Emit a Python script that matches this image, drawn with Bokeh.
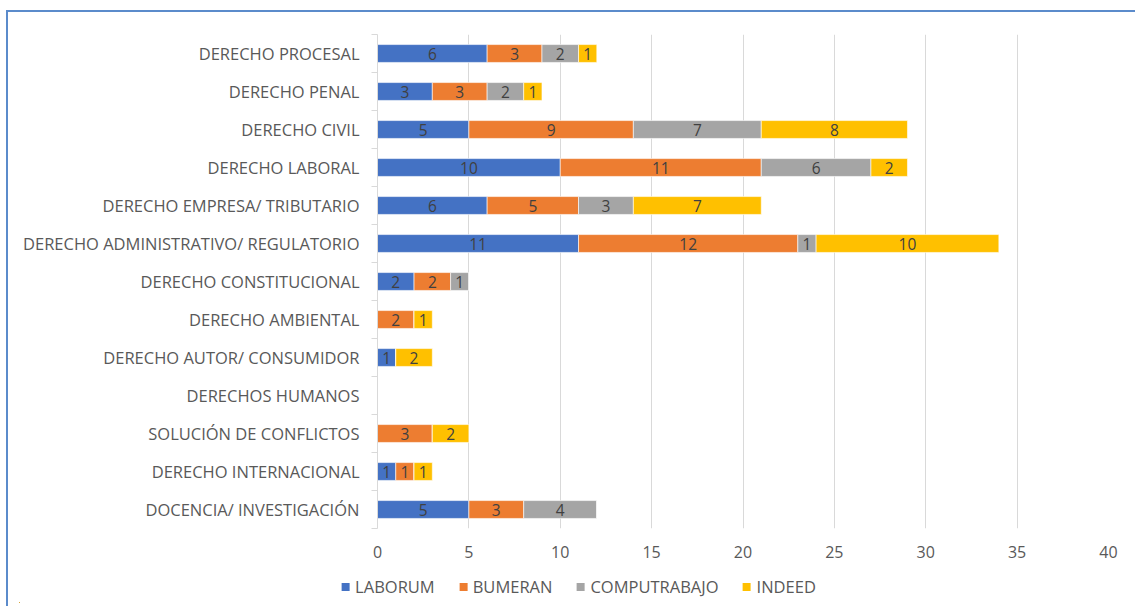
from bokeh.plotting import figure
from bokeh.models import ColumnDataSource, FixedTicker, Range1d, Legend, LegendItem
from bokeh.embed import file_html
from bokeh.resources import INLINE
from bokeh.core.properties import value

categories = [
    "DERECHO PROCESAL",
    "DERECHO PENAL",
    "DERECHO CIVIL",
    "DERECHO LABORAL",
    "DERECHO EMPRESA/ TRIBUTARIO",
    "DERECHO ADMINISTRATIVO/ REGULATORIO",
    "DERECHO CONSTITUCIONAL",
    "DERECHO AMBIENTAL",
    "DERECHO AUTOR/ CONSUMIDOR",
    "DERECHOS HUMANOS",
    "SOLUCIÓN DE CONFLICTOS",
    "DERECHO INTERNACIONAL",
    "DOCENCIA/ INVESTIGACIÓN",
]
laborum = [6, 3, 5, 10, 6, 11, 2, 0, 1, 0, 0, 1, 5]
bumeran = [3, 3, 9, 11, 5, 12, 2, 2, 0, 0, 3, 1, 3]
computrabajo = [2, 2, 7, 6, 3, 1, 1, 0, 0, 0, 0, 0, 4]
indeed = [1, 1, 8, 2, 7, 10, 0, 1, 2, 0, 2, 1, 0]
series_names = ["LABORUM", "BUMERAN", "COMPUTRABAJO", "INDEED"]
x_ticks = [0, 5, 10, 15, 20, 25, 30, 35, 40]

colors = ["#4472C4", "#ED7D31", "#A5A5A5", "#FFC000"]
FONT = "Open Sans"
BORDER = "2px solid #5B8BCB"

n = len(categories)
centers = [n - i - 0.5 for i in range(n)]
bounds = [float(b) for b in range(n + 1)]

W = 1129
p = figure(width=W, height=560, output_backend="svg", toolbar_location=None,
           x_range=Range1d(0, 40), y_range=Range1d(0, n),
           min_border_left=369, min_border_right=29, min_border_top=22, min_border_bottom=44)
p.styles = {"border-top": BORDER, "border-left": BORDER, "margin-top": "10px", "margin-left": "6px"}
p.outline_line_color = None
p.background_fill_color = "white"

# Legend strip (separate root so it is centred on the whole chart, not the plot frame)
lp = figure(width=W, height=36, output_backend="svg", toolbar_location=None,
            x_range=Range1d(1000, 1001), y_range=Range1d(1000, 1001), min_border=0)
lp.min_border_left = 11
lp.min_border_bottom = 4
lp.styles = {"border-left": BORDER, "margin-left": "6px"}
lp.axis.visible = False
lp.grid.visible = False
lp.outline_line_color = None

all_series = [laborum, bumeran, computrabajo, indeed]
cum = [0] * n
items = []
for name, vals, col in zip(series_names, all_series, colors):
    left = list(cum)
    right = [a + b for a, b in zip(cum, vals)]
    src = ColumnDataSource(dict(y=centers, left=left, right=right))
    p.hbar(y="y", left="left", right="right", height=0.47, source=src,
           fill_color=col, line_color="white", line_width=0.6)
    # same data in the legend strip (outside its visible range) to supply legend swatches
    r = lp.hbar(y="y", left="left", right="right", height=0.47, source=src,
                fill_color=col, line_color=None)
    items.append(LegendItem(label=name, renderers=[r]))
    lx, ly, lt = [], [], []
    for i, v in enumerate(vals):
        if v > 0:
            lx.append((left[i] + right[i]) / 2)
            ly.append(centers[i])
            lt.append(str(v))
    p.text(x=lx, y=ly, text=lt, text_align="center", text_baseline="middle",
           text_font=value(FONT), text_font_size="15.5px", text_color="#404040")
    cum = right

# Y axis
p.yaxis.ticker = FixedTicker(ticks=centers, minor_ticks=bounds)
p.yaxis.major_label_overrides = {c: name for c, name in zip(centers, categories)}
p.yaxis.major_tick_line_color = None
p.yaxis.major_tick_out = 0
p.yaxis.major_tick_in = 0
p.yaxis.minor_tick_out = 6
p.yaxis.minor_tick_in = 0
p.yaxis.minor_tick_line_color = "#D9D9D9"
p.yaxis.axis_line_color = "#D9D9D9"
p.yaxis.axis_line_width = 1
p.yaxis.major_label_standoff = 12
p.yaxis.major_label_text_font = FONT
p.yaxis.major_label_text_font_size = "16.5px"
p.yaxis.major_label_text_color = "#595959"

# X axis
p.xaxis.ticker = FixedTicker(ticks=x_ticks)
p.xaxis.axis_line_color = None
p.xaxis.major_tick_line_color = None
p.xaxis.minor_tick_line_color = None
p.xaxis.major_label_standoff = 11
p.xaxis.major_label_text_font = FONT
p.xaxis.major_label_text_font_size = "16px"
p.xaxis.major_label_text_color = "#595959"

p.xgrid.grid_line_color = "#D9D9D9"
p.xgrid.grid_line_width = 1
p.xgrid.ticker = FixedTicker(ticks=x_ticks)
p.ygrid.grid_line_color = None

legend = Legend(items=items, location="center", orientation="horizontal",
                glyph_width=10, glyph_height=10, label_standoff=5, spacing=23,
                padding=0, margin=0, border_line_color=None, background_fill_alpha=0,
                label_text_font=FONT, label_text_font_size="16.5px", label_text_color="#595959")
lp.add_layout(legend)

open("out.html", "w").write(file_html([p, lp], INLINE))
